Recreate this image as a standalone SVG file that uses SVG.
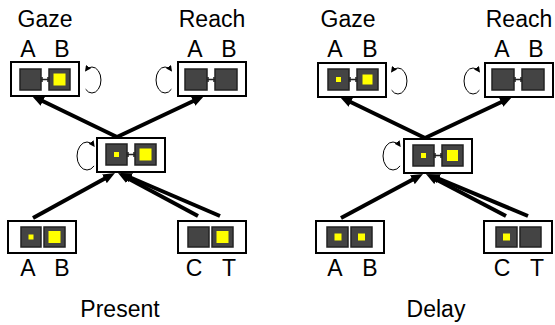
<svg xmlns="http://www.w3.org/2000/svg" width="555" height="325" viewBox="0 0 555 325">
<style>
.box{fill:#fff;stroke:#000;stroke-width:2}
.sq{fill:#444;stroke:#222;stroke-width:1.5}
.y{fill:#ffff00}
.lk{stroke:#222;stroke-width:1.5;fill:none}
.t{font-family:"Liberation Sans",Arial,sans-serif;font-size:23px;fill:#000;text-anchor:middle}
.ar{stroke:#000;stroke-width:4;fill:none;marker-end:url(#ah)}
.lp{stroke:#000;stroke-width:1;fill:none;marker-end:url(#lh)}
</style>
<defs>
<marker id="ah" viewBox="0 0 3 2.5" refX="0.5" refY="1.25" markerWidth="3" markerHeight="2.5" orient="auto" markerUnits="strokeWidth"><path d="M0,0 L3,1.25 L0,2.5 z" fill="#000"/></marker>
<marker id="lh" viewBox="0 0 6 6" refX="5" refY="3" markerWidth="6" markerHeight="6" orient="auto" markerUnits="userSpaceOnUse"><path d="M0,0 L6,3 L0,6 z" fill="#000"/></marker>
</defs>
<rect width="555" height="325" fill="#fff"/>

<g id="connectors">
<line class="ar" x1="117" y1="137" x2="41" y2="100.3"/>
<line class="ar" x1="117" y1="137" x2="195" y2="100.3"/>
<line class="ar" x1="33" y1="218" x2="106.2" y2="177.8"/>
<line class="ar" x1="198" y1="216" x2="126.8" y2="177.7"/>
<line class="ar" x1="220" y1="216" x2="129.2" y2="177"/>
<line class="ar" x1="425" y1="138" x2="349" y2="101.3"/>
<line class="ar" x1="425" y1="138" x2="503" y2="101.3"/>
<line class="ar" x1="341" y1="218" x2="414.2" y2="178.8"/>
<line class="ar" x1="506" y1="216" x2="434.8" y2="178.7"/>
<line class="ar" x1="528" y1="216" x2="437.2" y2="178"/>
<path class="lp" d="M85.6,89.2 A9,13 0 1 0 85.6,70.8"/>
<path class="lp" d="M171.4,89.2 A9,13 0 1 1 171.4,70.8"/>
<path class="lp" d="M94.1,165.9 A10,14 0 1 1 94.1,146.1"/>
<path class="lp" d="M391.6,90.2 A9,13 0 1 0 391.6,71.8"/>
<path class="lp" d="M479.4,90.2 A9,13 0 1 1 479.4,71.8"/>
<path class="lp" d="M400.1,165.9 A10,14 0 1 1 400.1,146.1"/>
</g>

<g id="left-gaze">
<text class="t" x="45" y="27">Gaze</text>
<text class="t" x="28" y="57">A</text>
<text class="t" x="62" y="57">B</text>
<g transform="translate(11,62)">
<rect class="box" x="0" y="0" width="68" height="34"/>
<rect class="sq" x="9" y="7" width="21" height="21"/>
<rect class="sq" x="38" y="7" width="21" height="21"/>
<path class="lk" d="M30,17.5 H38 M31,15 V20 M37,15 V20"/>
<rect class="y" x="42.5" y="11.5" width="12" height="12"/>
</g>
</g>

<g id="left-reach">
<text class="t" x="212" y="27">Reach</text>
<text class="t" x="195" y="57">A</text>
<text class="t" x="229" y="57">B</text>
<g transform="translate(178,62)">
<rect class="box" x="0" y="0" width="68" height="34"/>
<rect class="sq" x="7" y="7" width="22" height="21"/>
<rect class="sq" x="37" y="7" width="22" height="21"/>
<path class="lk" d="M29,17.5 H37 M30,15 V20 M36,15 V20"/>
</g>
</g>

<g id="left-mid">
<g transform="translate(97,138)">
<rect class="box" x="0" y="0" width="68" height="34"/>
<rect class="sq" x="9" y="6" width="21" height="21"/>
<rect class="sq" x="38" y="6" width="21" height="21"/>
<path class="lk" d="M30,16.5 H38 M31,14 V19 M37,14 V19"/>
<rect class="y" x="17" y="14" width="5" height="5"/>
<rect class="y" x="42.5" y="10.5" width="12" height="12"/>
</g>
</g>

<g id="left-ab">
<g transform="translate(8,221)">
<rect class="box" x="0" y="0" width="68" height="32"/>
<rect class="sq" x="13" y="6" width="20" height="20"/>
<rect class="sq" x="36" y="6" width="21" height="20"/>
<rect class="y" x="20.5" y="13.5" width="5" height="5"/>
<rect class="y" x="40.5" y="10" width="12" height="12"/>
</g>
<text class="t" x="28" y="276">A</text>
<text class="t" x="62" y="276">B</text>
</g>

<g id="left-ct">
<g transform="translate(178,221)">
<rect class="box" x="0" y="0" width="68" height="32"/>
<rect class="sq" x="10" y="6" width="21" height="20"/>
<rect class="sq" x="34" y="6" width="21" height="20"/>
<rect class="y" x="38.5" y="10" width="12" height="12"/>
</g>
<text class="t" x="194" y="276">C</text>
<text class="t" x="229" y="276">T</text>
</g>

<text class="t" x="120" y="317">Present</text>

<g id="right-gaze">
<text class="t" x="348" y="27">Gaze</text>
<text class="t" x="335" y="57">A</text>
<text class="t" x="370" y="57">B</text>
<g transform="translate(318,63)">
<rect class="box" x="0" y="0" width="68" height="34"/>
<rect class="sq" x="10" y="6" width="21" height="21"/>
<rect class="sq" x="39" y="6" width="21" height="21"/>
<path class="lk" d="M31,16.5 H39 M32,14 V19 M38,14 V19"/>
<rect class="y" x="18" y="14" width="5" height="5"/>
<rect class="y" x="44.5" y="11.5" width="10" height="10"/>
</g>
</g>

<g id="right-reach">
<text class="t" x="519" y="27">Reach</text>
<text class="t" x="502" y="57">A</text>
<text class="t" x="536" y="57">B</text>
<g transform="translate(485,63)">
<rect class="box" x="0" y="0" width="68" height="34"/>
<rect class="sq" x="7" y="6" width="22" height="21"/>
<rect class="sq" x="37" y="6" width="22" height="21"/>
<path class="lk" d="M29,16.5 H37 M30,14 V19 M36,14 V19"/>
</g>
</g>

<g id="right-mid">
<g transform="translate(404,139)">
<rect class="box" x="0" y="0" width="68" height="34"/>
<rect class="sq" x="9" y="6" width="21" height="21"/>
<rect class="sq" x="38" y="6" width="21" height="21"/>
<path class="lk" d="M30,16.5 H38 M31,14 V19 M37,14 V19"/>
<rect class="y" x="17" y="14" width="5" height="5"/>
<rect class="y" x="43" y="11" width="11" height="11"/>
</g>
</g>

<g id="right-ab">
<g transform="translate(316,221)">
<rect class="box" x="0" y="0" width="68" height="32"/>
<rect class="sq" x="11" y="6" width="21" height="20"/>
<rect class="sq" x="35" y="6" width="21" height="20"/>
<rect class="y" x="18.5" y="12.5" width="7" height="7"/>
<rect class="y" x="42" y="12.5" width="7" height="7"/>
</g>
<text class="t" x="335" y="276">A</text>
<text class="t" x="370" y="276">B</text>
</g>

<g id="right-ct">
<g transform="translate(484,221)">
<rect class="box" x="0" y="0" width="68" height="32"/>
<rect class="sq" x="12" y="6" width="21" height="20"/>
<rect class="sq" x="36" y="6" width="21" height="20"/>
<rect class="y" x="19" y="12.5" width="7" height="7"/>
</g>
<text class="t" x="502" y="276">C</text>
<text class="t" x="537" y="276">T</text>
</g>

<text class="t" x="436" y="317">Delay</text>
</svg>
